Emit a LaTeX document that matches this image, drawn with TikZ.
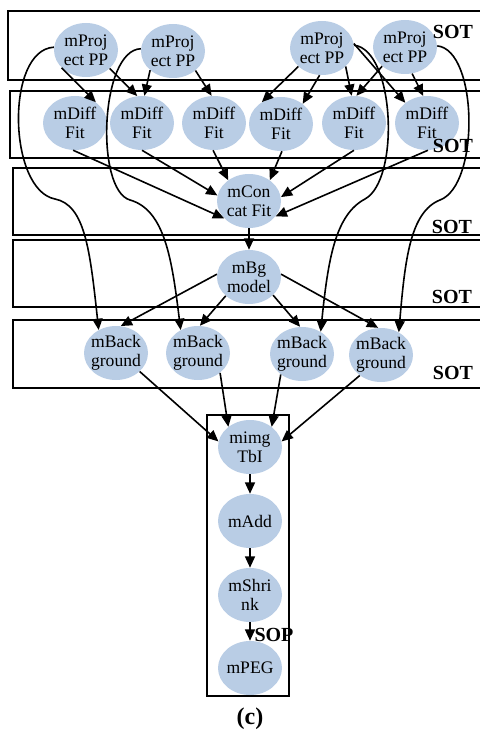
\documentclass[tikz,border=0pt]{standalone}
\usepackage{fontspec}
\setmainfont{Liberation Serif}
\usetikzlibrary{arrows.meta,shapes.geometric}
\definecolor{nodeblue}{RGB}{185,205,229}
\begin{document}
\begin{tikzpicture}[x=0.75pt,y=-0.75pt,
  job/.style={ellipse, fill=nodeblue, minimum width=48pt, minimum height=40.5pt, inner xsep=-3pt, inner ysep=0pt, align=center, font=\fontsize{13.2}{14}\selectfont},
  conn/.style={line width=1.2pt, -{Triangle[length=8.5pt,width=7.5pt]}},
  band/.style={line width=1.2pt},
  lbl/.style={font=\fontsize{15}{16}\selectfont\bfseries, inner sep=0pt},
  caplbl/.style={font=\fontsize{18}{20}\selectfont\bfseries, inner sep=0pt}
]
\useasboundingbox (0,0) rectangle (479,730);
% bands
\draw[band] (481,11) -| (8,80) -- (481,80);
\draw[band] (481,91) -| (10,158) -- (481,158);
\draw[band] (481,168) -| (13,235) -- (481,235);
\draw[band] (481,240) -| (13,307) -- (481,307);
\draw[band] (481,320) -| (13,388) -- (481,388);
\draw[band] (207,415) rectangle (289,696);
% nodes
\node[job] (p1) at (86,50) {mProj\\ect PP};
\node[job] (p2) at (173,51) {mProj\\ect PP};
\node[job] (p3) at (322,48) {mProj\\ect PP};
\node[job] (p4) at (405,47) {mProj\\ect PP};
\node[job] (d1) at (75,123) {mDiff\\Fit};
\node[job] (d2) at (142,123) {mDiff\\Fit};
\node[job] (d3) at (214,123) {mDiff\\Fit};
\node[job] (d4) at (281,124) {mDiff\\Fit};
\node[job] (d5) at (354,123) {mDiff\\Fit};
\node[job] (d6) at (427,123) {mDiff\\Fit};
\node[job] (c) at (249,201) {mCon\\cat Fit};
\node[job] (bg) at (249,277) {mBg\\model};
\node[job] (b1) at (116,353) {mBack\\ground};
\node[job] (b2) at (198,353) {mBack\\ground};
\node[job] (b3) at (302,354) {mBack\\ground};
\node[job] (b4) at (381,355) {mBack\\ground};
\node[job] (m) at (250,447) {mimg\\TbI};
\node[job] (add) at (250,521) {mAdd};
\node[job] (shr) at (250,595) {mShri\\nk};
\node[job] (peg) at (250,668) {mPEG};
% project -> diff
\draw[conn] (p1.216) -- (d1.45);
\draw[conn] (p1.322) -- (d2.100);
\draw[conn] (p2.220) -- (d2.85);
\draw[conn] (p2.319) -- (d3.95);
\draw[conn] (p3.218) -- (d4.131);
\draw[conn] (p3.265) -- (d4.43);
\draw[conn] (p3.322) -- (d5.95);
\draw[conn] (p4.220) -- (d5.85);
\draw[conn] (p3.8) -- (d6.137);
\draw[conn] (p4.285) -- (d6.98);
% long curves project -> background
\draw[conn] (p1.175) .. controls (5,50) and (8,190) .. (55,199) .. controls (85,205) and (90,250) .. (b1.127);
\draw[conn] (p2.176) .. controls (100,50) and (95,190) .. (130,200) .. controls (165,210) and (172,260) .. (b2.127);
\draw[conn] (p3.5) .. controls (395,50) and (400,180) .. (365,199) .. controls (335,215) and (328,260) .. (b3.50);
\draw[conn] (p4.2) .. controls (478,50) and (480,185) .. (440,200) .. controls (410,212) and (405,260) .. (b4.52);
% diff -> concat
\draw[conn] (d1.266) -- (c.215);
\draw[conn] (d2.270) -- (c.170);
\draw[conn] (d3.268) -- (c.135);
\draw[conn] (d4.272) -- (c.45);
\draw[conn] (d5.270) -- (c.7);
\draw[conn] (d6.272) -- (c.330);
\draw[conn] (c) -- (bg);
% bg -> background
\draw[conn] (bg.175) -- (b1.80);
\draw[conn] (bg.219) -- (b2.86);
\draw[conn] (bg.323) -- (b3.94);
\draw[conn] (bg.5) -- (b4.96);
% background -> mimg
\draw[conn] (b1.322) -- (m.170);
\draw[conn] (b2.318) -- (m.137);
\draw[conn] (b3.224) -- (m.43);
\draw[conn] (b4.224) -- (m.10);
\draw[conn] (m) -- (add);
\draw[conn] (add) -- (shr);
\draw[conn] (shr) -- (peg);
% labels
\node[lbl] (s1) at (453,32) {SOT};
\node[lbl] (s2) at (453,146) {SOT};
\node[lbl] (s3) at (452,227) {SOT};
\node[lbl] (s4) at (452,297) {SOT};
\node[lbl] (s5) at (453,373) {SOT};
\node[lbl] (sop) at (274,635) {SOP};
\node[caplbl] (cap) at (250,719) {(c)};
\end{tikzpicture}
\end{document}
